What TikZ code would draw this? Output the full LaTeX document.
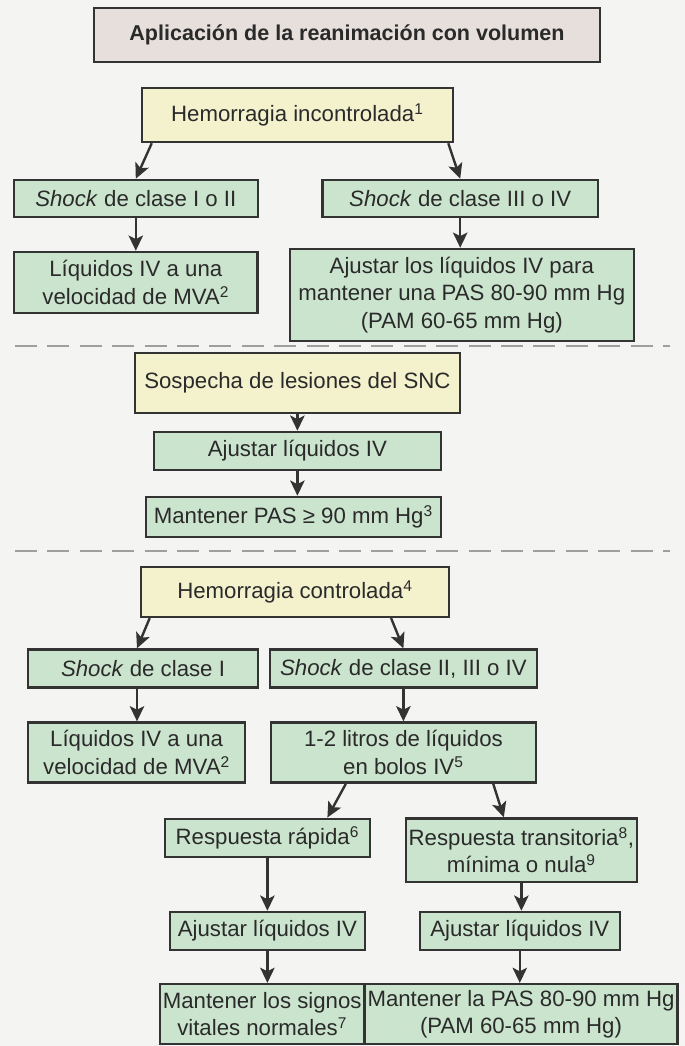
\documentclass[tikz,border=0pt]{standalone}
\usepackage{fontspec}
\setmainfont{Liberation Sans}
\usetikzlibrary{arrows.meta, positioning}

\definecolor{paper}{HTML}{F4F5F2}
\definecolor{boxline}{HTML}{333333}
\definecolor{titlefill}{HTML}{E6DFDC}
\definecolor{yellowfill}{HTML}{F3F2CD}
\definecolor{greenfill}{HTML}{CBE4CD}
\definecolor{inktext}{HTML}{2A2A2A}

\begin{document}
\begin{tikzpicture}[
        node distance=2.0cm,
        font=\fontsize{15.8}{19.5}\selectfont,
        box/.style={rectangle, draw=boxline, line width=1.8pt, text=inktext,
                    align=center, inner sep=2pt},
        heading/.style={box, fill=titlefill, font=\fontsize{15.3}{19.5}\selectfont\bfseries},
        cause/.style={box, fill=yellowfill},
        action/.style={box, fill=greenfill},
        arrow/.style={line width=1.7pt, draw=boxline,
                      -{Stealth[length=0.38cm, width=0.36cm, inset=0.09cm]}},
        separator/.style={line width=1.2pt, draw=gray!75, dash pattern=on 0.55cm off 0.26cm}
    ]
        \fill[paper] (0,0) rectangle (17.125,-26.15);
        \useasboundingbox (0,0) rectangle (17.125,-26.15);

        \node[heading, minimum width=12.65cm, minimum height=1.35cm] (title) at (8.675,-0.875) {Aplicación de la reanimación con volumen};

        % uncontrolled bleeding
        \node[cause, below of=title, xshift=-1.24cm, minimum width=7.78cm, minimum height=1.35cm] (bleedopen) {Hemorragia incontrolada\textsuperscript{1}};
        \node[action, below of=bleedopen, xshift=-4.04cm, yshift=-0.09cm, minimum width=6.1cm, minimum height=0.93cm] (shockmild) {\textit{Shock} de clase I o II};
        \node[action, right of=shockmild, xshift=6.11cm, minimum width=6.88cm, minimum height=0.93cm] (shocksevere) {\textit{Shock} de clase III o IV};
        \node[action, below of=shockmild, yshift=-0.1cm, minimum width=6.08cm, minimum height=1.53cm] (fluidsmild) {Líquidos IV a una\\velocidad de MVA\textsuperscript{2}};
        \node[action, below of=shocksevere, xshift=0.04cm, yshift=-0.41cm, minimum width=8.6cm, minimum height=2.3cm] (fluidssevere) {Ajustar los líquidos IV para\\mantener una PAS 80-90 mm Hg\\(PAM 60-65 mm Hg)};

        % head injury
        \node[cause, below of=bleedopen, yshift=-4.7cm, minimum width=8.13cm, minimum height=1.5cm] (cnshurt) {Sospecha de lesiones del SNC};
        \node[action, below of=cnshurt, yshift=0.3cm, minimum width=7.18cm, minimum height=0.95cm] (cnsfluids) {Ajustar líquidos IV};
        \node[action, below of=cnsfluids, xshift=-0.1cm, yshift=0.35cm, minimum width=7.38cm, minimum height=1.0cm] (cnstarget) {Mantener PAS ≥ 90 mm Hg\textsuperscript{3}};

        % controlled bleeding
        \node[cause, below of=cnstarget, xshift=0.04cm, yshift=0.13cm, minimum width=7.7cm, minimum height=1.25cm] (bleedstop) {Hemorragia controlada\textsuperscript{4}};
        \node[action, below of=bleedstop, xshift=-3.8cm, yshift=0.08cm, minimum width=5.75cm, minimum height=0.95cm] (shockone) {\textit{Shock} de clase I};
        \node[action, right of=shockone, xshift=4.51cm, minimum width=6.68cm, minimum height=0.95cm] (shockmore) {\textit{Shock} de clase II, III o IV};
        \node[action, below of=shockone, xshift=-0.16cm, yshift=-0.1cm, minimum width=5.43cm, minimum height=1.5cm] (fluidsone) {Líquidos IV a una\\velocidad de MVA\textsuperscript{2}};
        \node[action, below of=shockmore, yshift=-0.1cm, minimum width=6.63cm, minimum height=1.5cm] (bolus) {1-2 litros de líquidos\\en bolos IV\textsuperscript{5}};

        \node[action, below of=bolus, xshift=-3.4cm, yshift=-0.13cm, minimum width=5.13cm, minimum height=0.95cm] (fastresp) {Respuesta rápida\textsuperscript{6}};
        \node[action, below of=bolus, xshift=2.95cm, yshift=-0.44cm, minimum width=5.78cm, minimum height=1.58cm] (slowresp) {Respuesta transitoria\textsuperscript{8},\\mínima o nula\textsuperscript{9}};
        \node[action, below of=fastresp, yshift=-0.33cm, minimum width=4.88cm, minimum height=0.95cm] (fastfluids) {Ajustar líquidos IV};
        \node[action, below of=slowresp, xshift=-0.04cm, yshift=-0.02cm, minimum width=5.0cm, minimum height=0.95cm] (slowfluids) {Ajustar líquidos IV};
        \node[action, below of=fastfluids, xshift=-0.13cm, yshift=-0.08cm, minimum width=5.08cm, minimum height=1.5cm] (fastgoal) {Mantener los signos\\vitales normales\textsuperscript{7}};
        \node[action, below of=slowfluids, xshift=0.03cm, yshift=-0.08cm, minimum width=7.75cm, minimum height=1.5cm] (slowgoal) {Mantener la PAS 80-90 mm Hg\\(PAM 60-65 mm Hg)};

        % section breaks
        \draw[separator] (0.375,-8.65) -- (16.75,-8.65);
        \draw[separator] (0.375,-13.775) -- (16.75,-13.775);

        \draw[arrow] ([xshift=0.28cm]bleedopen.south west) -- (shockmild.north);
        \draw[arrow] ([xshift=-0.15cm]bleedopen.south east) -- (shocksevere.north);
        \draw[arrow] (shockmild) -- (fluidsmild);
        \draw[arrow] (shocksevere.south) -- (shocksevere.south |- fluidssevere.north);

        \draw[arrow] (cnshurt.south) -- (cnshurt.south |- cnsfluids.north);
        \draw[arrow] (cnsfluids.south) -- (cnsfluids.south |- cnstarget.north);

        \draw[arrow] ([xshift=0.25cm]bleedstop.south west) -- ([xshift=-0.15cm]shockone.north);
        \draw[arrow] ([xshift=-1.48cm]bleedstop.south east) -- (shockmore.north);
        \draw[arrow] ([xshift=-0.15cm]shockone.south) -- ([xshift=-0.15cm]shockone.south |- fluidsone.north);
        \draw[arrow] (shockmore.south) -- (shockmore.south |- bolus.north);

        \draw[arrow] ([xshift=-1.44cm]bolus.south) -- ([xshift=1.5cm]fastresp.north);
        \draw[arrow] ([xshift=-1.1cm]bolus.south east) -- ([xshift=-0.44cm]slowresp.north);
        \draw[arrow] (fastresp.south) -- (fastresp.south |- fastfluids.north);
        \draw[arrow] (slowresp.south) -- (slowresp.south |- slowfluids.north);
        \draw[arrow] (fastfluids.south) -- (fastfluids.south |- fastgoal.north);
        \draw[arrow] (slowfluids.south) -- (slowfluids.south |- slowgoal.north);
    \end{tikzpicture}
\end{document}
